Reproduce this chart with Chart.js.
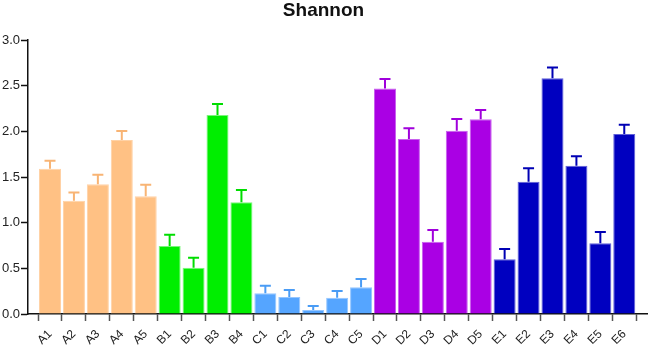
<!DOCTYPE html>
<html>
<head>
<meta charset="utf-8">
<script src="https://cdn.jsdelivr.net/npm/chart.js@4/dist/chart.umd.min.js"></script>
<style>
  html, body { margin: 0; padding: 0; background: #fff; }
  #wrap { width: 649px; height: 347px; }
</style>
</head>
<body>
<div id="wrap"><canvas id="shannonChart"></canvas></div>
<script>
const categories = ['A1', 'A2', 'A3', 'A4', 'A5', 'B1', 'B2', 'B3', 'B4', 'C1', 'C2', 'C3', 'C4', 'C5',
    'D1', 'D2', 'D3', 'D4', 'D5', 'E1', 'E2', 'E3', 'E4', 'E5', 'E6'];
const shannon = [1.59, 1.24, 1.42, 1.905, 1.29, 0.745, 0.507, 2.18, 1.223, 0.226, 0.186, 0.044, 0.179, 0.292,
    2.47, 1.916, 0.792, 2.007, 2.132, 0.599, 1.449, 2.58, 1.624, 0.774, 1.971];
const shannonErr = [0.087, 0.09, 0.105, 0.1, 0.124, 0.123, 0.109, 0.12, 0.135, 0.084, 0.077, 0.044, 0.073, 0.091,
    0.103, 0.117, 0.128, 0.128, 0.102, 0.113, 0.146, 0.12, 0.103, 0.124, 0.102];
const yTicks = [0, 0.5, 1.0, 1.5, 2.0, 2.5, 3.0];

const groupColors = {
    A: '#ffc184',
    B: '#00ee00',
    C: '#55a5ff',
    D: '#aa00e4',
    E: '#0000c0'
};
const edgeColors = {
    A: '#ffd2a6',
    B: '#7af57a',
    C: '#95c6ff',
    D: '#c860ee',
    E: '#6060d8'
};
const errColors = {
    A: '#f8b474',
    B: '#00dd00',
    C: '#4a9cf5',
    D: '#a000dc',
    E: '#0000b4'
};

const barColors = categories.map(c => groupColors[c[0]]);
const barEdges = categories.map(c => edgeColors[c[0]]);
const barErrColors = categories.map(c => errColors[c[0]]);

// draws the mean + error caps on top of each bar
const errorBars = {
    id: 'errorBars',
    afterDatasetsDraw(chart) {
        const ctx = chart.ctx;
        const meta = chart.getDatasetMeta(0);
        const yScale = chart.scales.y;
        ctx.save();
        ctx.lineWidth = 2;
        meta.data.forEach((bar, i) => {
            const top = yScale.getPixelForValue(shannon[i] + shannonErr[i]);
            ctx.strokeStyle = barErrColors[i];
            ctx.beginPath();
            ctx.moveTo(bar.x, bar.y);
            ctx.lineTo(bar.x, top);
            ctx.moveTo(bar.x - 5.5, top);
            ctx.lineTo(bar.x + 5.5, top);
            ctx.stroke();
        });
        ctx.restore();
    }
};

const ctx = document.getElementById('shannonChart').getContext('2d');

const shannonChart = new Chart(ctx, {
    type: 'bar',
    data: {
        datasets: [{
            label: 'Shannon',
            data: shannon.map((v, i) => ({ x: i, y: v })),
            backgroundColor: barColors,
            borderColor: barEdges,
            borderWidth: 1,
            barPercentage: 0.92,
            categoryPercentage: 1
        }]
    },
    plugins: [errorBars],
    options: {
        responsive: true,
        maintainAspectRatio: false,
        animation: false,
        layout: { padding: { top: 0, right: 2, bottom: 0, left: 0 } },
        plugins: {
            legend: { display: false },
            tooltip: { enabled: false },
            title: {
                display: true,
                text: 'Shannon',
                color: '#111',
                font: { family: 'Liberation Sans', size: 19, weight: 'bold', lineHeight: 1.0 },
                padding: { top: 1, bottom: 20 }
            }
        },
        scales: {
            x: {
                type: 'linear',
                min: -0.92,
                max: 24.95,
                offset: false,
                afterBuildTicks: scale => {
                    scale.ticks = categories.map((c, i) => ({ value: i }));
                },
                afterFit: scale => {
                    scale.height = 33;
                },
                ticks: {
                    autoSkip: false,
                    minRotation: 45,
                    maxRotation: 45,
                    padding: 6,
                    color: '#222',
                    font: { family: 'Liberation Sans', size: 12 },
                    callback: value => categories[value]
                },
                grid: {
                    drawOnChartArea: false,
                    tickLength: 7,
                    tickWidth: 1.5,
                    color: '#555'
                },
                border: { color: '#111', width: 1.5 }
            },
            y: {
                min: 0,
                max: 3.0,
                afterBuildTicks: scale => {
                    scale.ticks = yTicks.map(v => ({ value: v }));
                },
                afterFit: scale => {
                    scale.width = 28;
                },
                ticks: {
                    padding: 1,
                    color: '#222',
                    font: { family: 'Liberation Sans', size: 13 },
                    callback: value => value.toFixed(1)
                },
                grid: {
                    drawOnChartArea: false,
                    tickLength: 7,
                    tickWidth: 1.5,
                    color: '#111'
                },
                border: { color: '#111', width: 1.5 }
            }
        }
    }
});
</script>
</body>
</html>
